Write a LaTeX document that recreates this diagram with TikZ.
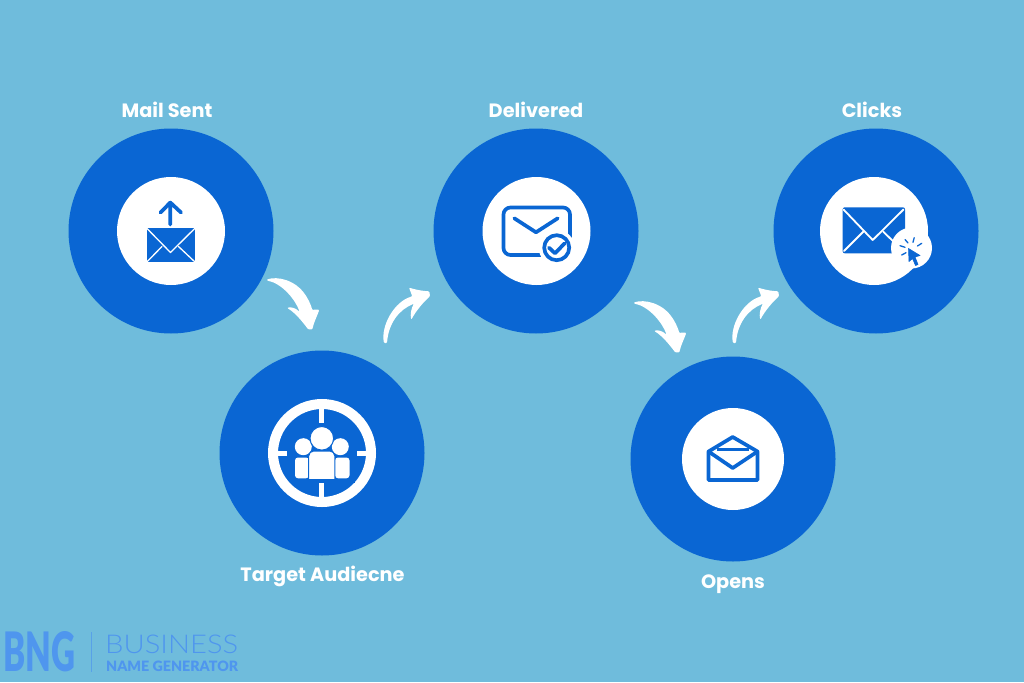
\documentclass[tikz,border=0pt]{standalone}
\usepackage{fontspec}
\setmainfont{Poppins}
\newfontfamily\logofont{Lato}
\newfontfamily\logolight{Lato Light}
\newfontfamily\logoblack{Lato Black}
\definecolor{bgc}{HTML}{6FBCDC}
\definecolor{bluec}{HTML}{0A66D3}
\definecolor{logoc}{HTML}{4F96EE}
\tikzset{
  bigdisc/.style={circle,fill=bluec,minimum size=205pt,inner sep=0pt},
  whitedisc/.style={circle,fill=white,minimum size=#1,inner sep=0pt},
  lab/.style={text=white,font=\fontsize{19.3}{19.3}\selectfont\bfseries,inner sep=0pt,anchor=center},
  icon/.style={draw=bluec,line width=3.7pt,line cap=round,line join=round},
  thinwhite/.style={draw=white,line width=1.3pt,line cap=round,line join=round},
  small/.style={x=.3333pt,y=-.3333pt},
  pics/arrowdown/.style={code={
    \fill[small,white,rounded corners=1pt] (0,0) .. controls (30,-10) and (85,0) .. (117,49) .. controls (127,65) and (133,80) .. (136,92)
      .. controls (142,90) and (150,90) .. (157,91) .. controls (150,110) and (140,130) .. (136,150) -- (124,150)
      .. controls (105,125) and (85,100) .. (60,85) .. controls (72,82) and (85,85) .. (98,97)
      .. controls (85,60) and (45,12) .. (0,3) -- cycle;
  }},
  pics/arrowup/.style={code={
    \fill[small,white,rounded corners=1pt] (0,0) .. controls (-10,-50) and (30,-125) .. (85,-140) -- (75,-166)
      .. controls (95,-160) and (115,-156) .. (136,-155) -- (138,-140)
      .. controls (120,-125) and (95,-95) .. (82,-70) .. controls (78,-85) and (82,-105) .. (90,-118)
      .. controls (45,-100) and (14,-60) .. (9,0) -- cycle;
  }},
}
\begin{document}
\begin{tikzpicture}[x=1pt,y=-1pt]
\useasboundingbox (0,0) rectangle (1024,682);
\fill[bgc] (0,0) rectangle (1024,682);

% discs
\node[bigdisc] (mail) at (171,231) {};
\node[bigdisc] (target) at (322,453) {};
\node[bigdisc] (deliv) at (536,231) {};
\node[bigdisc] (clicks) at (876,231) {};
\node[bigdisc] (opens) at (733,459) {};

% labels
\node[lab] (lmail) at (167,110) {Mail Sent};
\node[lab] (ltarget) at (322.5,576) {Target Audiecne};
\node[lab] (ldeliv) at (536,110) {Delivered};
\node[lab] (lclicks) at (872,110) {Clicks};
\node[lab] (lopens) at (733,584.5) {Opens};

% connectors (brush arrows)
\pic at (267,279.5) {arrowdown};
\pic at (384,343) {arrowup};
\pic at (634,302.5) {arrowdown};
\pic at (733,343) {arrowup};

% Mail Sent icon
\node[whitedisc=108pt] (imail) at (171,231) {};
\fill[bluec] (146,227.7) rectangle (195.7,262.3);
\draw[thinwhite] (146.5,228) -- (170.5,252.5) -- (195.2,228);
\draw[thinwhite] (146.8,262) -- (162,246.5) (178.5,246.5) -- (195,262);
\draw[thinwhite] (146,227.7) rectangle (195.7,262.3);
\draw[draw=bluec,line width=3.7pt,line cap=round,line join=round] (170.3,224.5) -- (170.3,202.5) (160.5,212.5) -- (170.3,202.5) -- (181,212.5);

% Target icon
\draw[white,line width=10pt] (322,453) circle (49pt);
\draw[white,line width=5pt] (321.5,409) -- (321.5,423) (321.5,483) -- (321.5,497)
  (273,453) -- (287,453) (357,453) -- (371,453);
\fill[white] (303.3,446.7) circle (8.5pt) (340.3,446.7) circle (8.5pt);
\fill[white,rounded corners=3pt] (295,478.3) -- (295,457.5) -- (309,457.5) -- (309,478.3) -- cycle;
\fill[white,rounded corners=3pt] (335,478.3) -- (335,457.5) -- (349.5,457.5) -- (349.5,478.3) -- cycle;
\fill[white,draw=bluec,line width=1pt] (321.8,438.3) circle (11.8pt);
\draw[fill=white,draw=bluec,line width=1pt,rounded corners=5pt] (308.7,479.5) -- (308.7,451) -- (334.8,451) -- (334.8,479.5);
\fill[bluec] (290,478.8) rectangle (355,483);

% Delivered icon
\node[whitedisc=108pt] (ideliv) at (536.5,231) {};
\draw[icon,rounded corners=7pt] (503.5,207.5) rectangle (570,255);
\draw[icon] (514.3,218.3) -- (536,232.3) -- (557.7,218.3);
\fill[white] (556.7,247.7) circle (18pt);
\draw[icon] (556.7,247.7) circle (12.5pt);
\draw[icon] (549,247.7) -- (555,253.3) -- (564.5,243.5);

% Clicks icon
\node[whitedisc=108pt] (iclicks) at (874,231) {};
\fill[bluec,rounded corners=2pt] (842.7,207.3) rectangle (905,253.3);
\draw[draw=white,line width=1.8pt,line cap=round,line join=round] (843.5,209.5) -- (872.7,240) -- (903.5,209.5);
\draw[draw=white,line width=1.8pt,line cap=round] (844,251) -- (863.3,231.7) (883.3,231.7) -- (900,248);
\fill[white] (911.5,248) circle (20.5pt);
\fill[bluec,line join=round,draw=bluec,line width=.6pt] (908.5,248.5) -- (920,255.5) -- (915,257) -- (918,264.5) -- (915.5,265.5) -- (912.5,258.5) -- (909,261.5) -- cycle;
\draw[bluec,line width=1.3pt,line cap=round] (905,239.5) -- (908,243) (914.2,237.7) -- (913,242.3)
  (921.7,243.3) -- (917.5,246) (900,245.7) -- (905,247.3) (901.7,255) -- (906,252.7);

% Opens icon
\node[whitedisc=102pt] (iopens) at (733,459) {};
\draw[icon] (708.5,451.5) -- (732.7,437) -- (757.5,451.5) -- (757.5,480) -- (708.5,480) -- cycle;
\draw[icon] (708.5,451.5) -- (732.7,468) -- (757.5,451.5);
\draw[bluec,line width=2.8pt] (717,449.3) -- (749,449.3);

% logo
\node[anchor=west,inner sep=0pt,text=logoc] (bng) at (3,651.5) {\resizebox{72pt}{40pt}{\logoblack BNG}};
\draw[logoc,line width=.5pt,opacity=.7] (91,632) -- (91,672);
\node[anchor=west,inner sep=0pt,text=logoc] (bus) at (105,644) {\resizebox{133pt}{18.5pt}{\logolight BUSINESS}};
\node[anchor=west,inner sep=0pt,text=logoc] (nam) at (106,666.5) {\resizebox{132pt}{10.5pt}{\logoblack NAME GENERATOR}};
\end{tikzpicture}
\end{document}
